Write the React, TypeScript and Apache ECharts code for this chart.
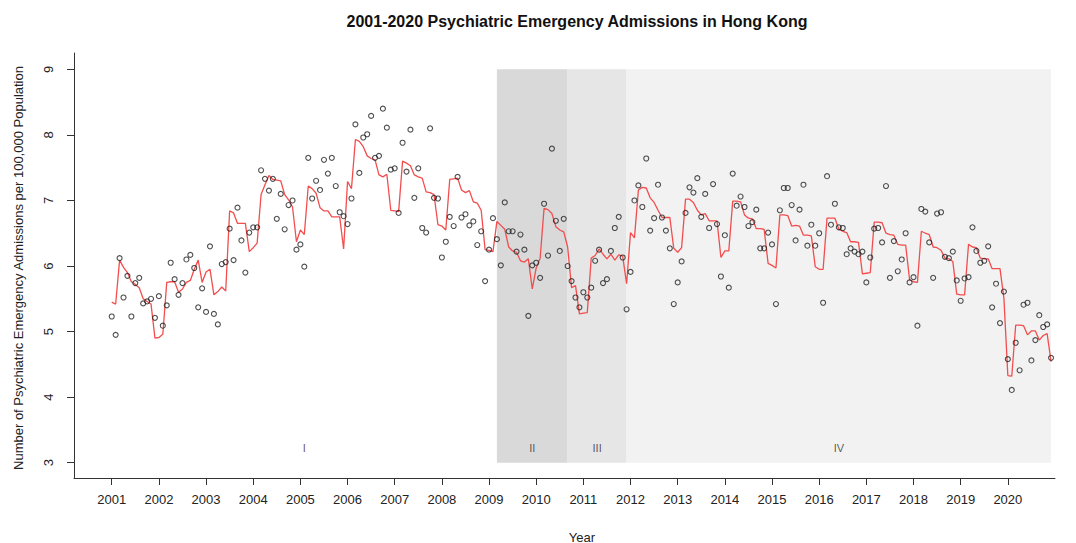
import React, { useEffect, useRef } from "react";
import * as echarts from "echarts";

const years = [2001, 2002, 2003, 2004, 2005, 2006, 2007, 2008, 2009, 2010, 2011, 2012, 2013, 2014, 2015, 2016, 2017, 2018, 2019, 2020];

// Observed monthly admissions per 100,000 population (Jan..Dec for each year)
const observed = [
  [5.23, 4.95, 6.12, 5.52, 5.85, 5.23, 5.74, 5.82, 5.43, 5.46, 5.50, 5.21],
  [5.54, 5.09, 5.40, 6.05, 5.80, 5.56, 5.74, 6.10, 6.17, 5.97, 5.37, 5.66],
  [5.30, 6.30, 5.27, 5.11, 6.03, 6.06, 6.57, 6.09, 6.89, 6.39, 5.90, 6.51],
  [6.59, 6.59, 7.46, 7.33, 7.15, 7.33, 6.72, 7.10, 6.56, 6.93, 7.00, 6.25],
  [6.33, 5.99, 7.65, 7.03, 7.30, 7.16, 7.62, 7.41, 7.65, 7.22, 6.82, 6.76],
  [6.64, 7.03, 8.16, 7.42, 7.96, 8.01, 8.29, 7.65, 7.68, 8.40, 8.11, 7.47],
  [7.49, 6.81, 7.88, 7.44, 8.08, 7.04, 7.49, 6.58, 6.51, 8.10, 7.04, 7.03],
  [6.13, 6.37, 6.75, 6.61, 7.36, 6.74, 6.79, 6.62, 6.68, 6.32, 6.53, 5.77],
  [6.25, 6.73, 6.41, 6.01, 6.97, 6.53, 6.53, 6.22, 6.48, 6.25, 5.24, 6.01],
  [6.05, 5.82, 6.95, 6.16, 7.79, 6.69, 6.23, 6.72, 6.00, 5.77, 5.52, 5.37],
  [5.60, 5.52, 5.67, 6.08, 6.25, 5.74, 5.80, 6.23, 6.58, 6.75, 6.13, 5.34],
  [5.91, 7.00, 7.23, 6.90, 7.64, 6.54, 6.73, 7.24, 6.74, 6.54, 6.27, 5.42],
  [5.75, 6.07, 6.81, 7.20, 7.12, 7.34, 6.75, 7.10, 6.58, 7.25, 6.64, 5.84],
  [6.47, 5.67, 7.41, 6.92, 7.06, 6.90, 6.61, 6.67, 6.86, 6.27, 6.27, 6.51],
  [6.33, 5.42, 6.85, 7.19, 7.19, 6.93, 6.39, 6.86, 7.24, 6.31, 6.63, 6.31],
  [6.50, 5.44, 7.37, 6.63, 6.95, 6.59, 6.58, 6.18, 6.27, 6.22, 6.18, 6.22],
  [5.75, 6.13, 6.57, 6.58, 6.36, 7.22, 5.82, 6.38, 5.92, 6.10, 6.50, 5.75],
  [5.83, 5.09, 6.87, 6.83, 6.36, 5.82, 6.80, 6.82, 6.14, 6.12, 6.22, 5.78],
  [5.47, 5.81, 5.83, 6.59, 6.23, 6.05, 6.08, 6.30, 5.37, 5.73, 5.13, 5.61],
  [4.58, 4.11, 4.83, 4.41, 5.41, 5.44, 4.56, 4.87, 5.25, 5.07, 5.11, 4.60],
];

// Fitted model values (red line)
const fitted = [
  [5.45, 5.42, 6.09, 5.98, 5.90, 5.76, 5.72, 5.67, 5.50, 5.46, 5.42, 4.90],
  [4.91, 4.96, 5.75, 5.76, 5.76, 5.60, 5.65, 5.75, 5.78, 5.95, 6.09, 5.75],
  [5.91, 5.95, 5.56, 5.61, 5.68, 5.62, 6.84, 6.81, 6.65, 6.65, 6.65, 6.22],
  [6.28, 6.35, 7.09, 7.24, 7.38, 7.32, 7.31, 7.30, 7.09, 7.01, 6.90, 6.37],
  [6.55, 6.48, 7.22, 7.18, 7.11, 6.89, 6.84, 6.84, 6.75, 6.75, 6.75, 6.26],
  [7.29, 7.18, 7.93, 7.90, 7.82, 7.68, 7.64, 7.62, 7.39, 7.36, 7.40, 6.85],
  [6.84, 6.83, 7.60, 7.57, 7.53, 7.39, 7.36, 7.34, 7.13, 7.12, 7.09, 6.63],
  [6.61, 6.55, 7.32, 7.33, 7.34, 7.16, 7.12, 7.15, 6.98, 6.96, 6.85, 6.25],
  [6.24, 6.22, 6.68, 6.62, 6.56, 6.29, 6.23, 6.21, 6.08, 6.06, 6.11, 5.65],
  [5.97, 6.12, 6.88, 6.86, 6.80, 6.60, 6.55, 6.52, 6.29, 5.67, 5.70, 5.27],
  [5.28, 5.29, 6.12, 6.16, 6.26, 6.18, 6.11, 6.18, 6.09, 6.17, 6.15, 5.73],
  [6.51, 6.43, 7.16, 7.20, 7.19, 7.04, 6.97, 6.85, 6.74, 6.74, 6.74, 6.27],
  [6.21, 6.28, 7.02, 7.02, 6.97, 6.85, 6.78, 6.80, 6.69, 6.69, 6.69, 6.13],
  [6.23, 6.23, 6.99, 6.99, 6.98, 6.78, 6.73, 6.72, 6.57, 6.57, 6.56, 6.04],
  [6.01, 5.97, 6.78, 6.78, 6.77, 6.61, 6.62, 6.61, 6.47, 6.47, 6.46, 5.99],
  [5.95, 5.95, 6.73, 6.73, 6.73, 6.56, 6.53, 6.51, 6.37, 6.37, 6.36, 5.88],
  [5.89, 5.90, 6.67, 6.67, 6.66, 6.50, 6.48, 6.47, 6.33, 6.32, 6.32, 5.79],
  [5.76, 5.75, 6.53, 6.50, 6.48, 6.29, 6.28, 6.24, 6.12, 6.11, 6.07, 5.57],
  [5.56, 5.56, 6.33, 6.29, 6.28, 6.12, 6.11, 6.11, 5.96, 5.96, 5.96, 5.51],
  [4.33, 4.32, 5.10, 5.10, 5.09, 4.95, 5.01, 5.01, 4.87, 4.94, 4.97, 4.54],
];

const periodNames = ["I", "II", "III", "IV"];
const periodStarts = [2001, 2009 + 2 / 12, 2010 + 8 / 12, 2011 + 11 / 12];
const periodEnds = [2009 + 2 / 12, 2010 + 8 / 12, 2011 + 11 / 12, 2020 + 11 / 12];
const periodLabelY = 3.22;
const yTicks = [3, 4, 5, 6, 7, 8, 9];

const shadeColors = ["rgba(0,0,0,0)", "#d9d9d9", "#e6e6e6", "#f2f2f2"];
const FONT = "'Liberation Sans', Arial, Helvetica, sans-serif";

export default function App() {
  const ref = useRef<HTMLDivElement>(null);

  useEffect(() => {
    if (!ref.current) return;
    const chart = echarts.init(ref.current, null, { renderer: "svg" });

    const obsData: number[][] = [];
    const fitData: number[][] = [];
    years.forEach((yr, i) => {
      for (let m = 0; m < 12; m++) {
        obsData.push([yr + m / 12, observed[i][m]]);
        fitData.push([yr + m / 12, fitted[i][m]]);
      }
    });

    const periodData = periodNames.map((n, i) => [periodStarts[i], periodEnds[i], i]);
    const periodLabelData = periodNames.map((n, i) => ({
      value: [(periodStarts[i] + periodEnds[i]) / 2, periodLabelY],
      name: n,
    }));

    chart.setOption({
      animation: false,
      backgroundColor: "#ffffff",
      textStyle: { fontFamily: FONT },
      grid: { left: 74, right: 21, top: 53, bottom: 65, containLabel: false },
      xAxis: {
        type: "value",
        min: 2000.2,
        max: 2021.0,
        axisLine: { show: true, onZero: false, lineStyle: { color: "#333", width: 1 } },
        axisTick: { show: true, customValues: years, length: 7, lineStyle: { color: "#333" } },
        axisLabel: {
          customValues: years,
          fontSize: 13,
          color: "#222",
          margin: 15,
          fontFamily: FONT,
          formatter: (v: number) => String(Math.round(v)),
        },
        splitLine: { show: false },
      },
      yAxis: {
        type: "value",
        min: 2.767,
        max: 9.249,
        axisLine: { show: true, onZero: false, lineStyle: { color: "#333", width: 1 } },
        axisTick: { show: true, customValues: yTicks, length: 7, lineStyle: { color: "#333" } },
        axisLabel: {
          customValues: yTicks,
          fontSize: 13,
          color: "#222",
          margin: 19,
          rotate: 90,
          fontFamily: FONT,
          formatter: (v: number) => String(Math.round(v)),
        },
        splitLine: { show: false },
      },
      graphic: [
        {
          type: "text",
          x: 577,
          y: 21,
          style: {
            text: "2001-2020 Psychiatric Emergency Admissions in Hong Kong",
            font: `bold 16px ${FONT}`,
            fill: "#111",
            textAlign: "center",
            textVerticalAlign: "middle",
          },
        },
        {
          type: "text",
          x: 18,
          y: 268,
          rotation: Math.PI / 2,
          style: {
            text: "Number of Psychiatric Emergency Admissions per 100,000 Population",
            font: `13px ${FONT}`,
            fill: "#222",
            textAlign: "center",
            textVerticalAlign: "middle",
          },
        },
        {
          type: "text",
          x: 582,
          y: 537,
          style: {
            text: "Year",
            font: `13px ${FONT}`,
            fill: "#222",
            textAlign: "center",
            textVerticalAlign: "middle",
          },
        },
      ],
      series: [
        {
          type: "custom",
          z: 1,
          silent: true,
          data: periodData,
          encode: { x: [0, 1] },
          renderItem: (params: any, api: any) => {
            const s = api.value(0);
            const e = api.value(1);
            const idx = api.value(2);
            const p0 = api.coord([s, 9]);
            const p1 = api.coord([e, 3]);
            return {
              type: "rect",
              shape: { x: p0[0], y: p0[1], width: p1[0] - p0[0], height: p1[1] - p0[1] },
              style: { fill: shadeColors[idx] },
            };
          },
        },
        {
          type: "scatter",
          name: "Periods",
          z: 2,
          silent: true,
          data: periodLabelData,
          symbolSize: 0,
          itemStyle: { color: "rgba(0,0,0,0)" },
          label: {
            show: true,
            position: "inside",
            formatter: (p: any) => p.name,
            fontSize: 11,
            color: "#333",
            fontFamily: FONT,
          },
        },
        {
          type: "line",
          name: "Fitted",
          z: 3,
          data: fitData,
          showSymbol: false,
          symbol: "none",
          lineStyle: { color: "#f34d4d", width: 1.3 },
        },
        {
          type: "scatter",
          name: "Observed",
          z: 4,
          data: obsData,
          symbol: "circle",
          symbolSize: 5,
          itemStyle: { color: "rgba(255,255,255,0)", borderColor: "#222", borderWidth: 1.1 },
        },
      ],
    });

    return () => chart.dispose();
  }, []);

  return (
    <div
      ref={ref}
      style={{ position: "absolute", left: 0, top: 0, width: 1076, height: 543 }}
    />
  );
}
